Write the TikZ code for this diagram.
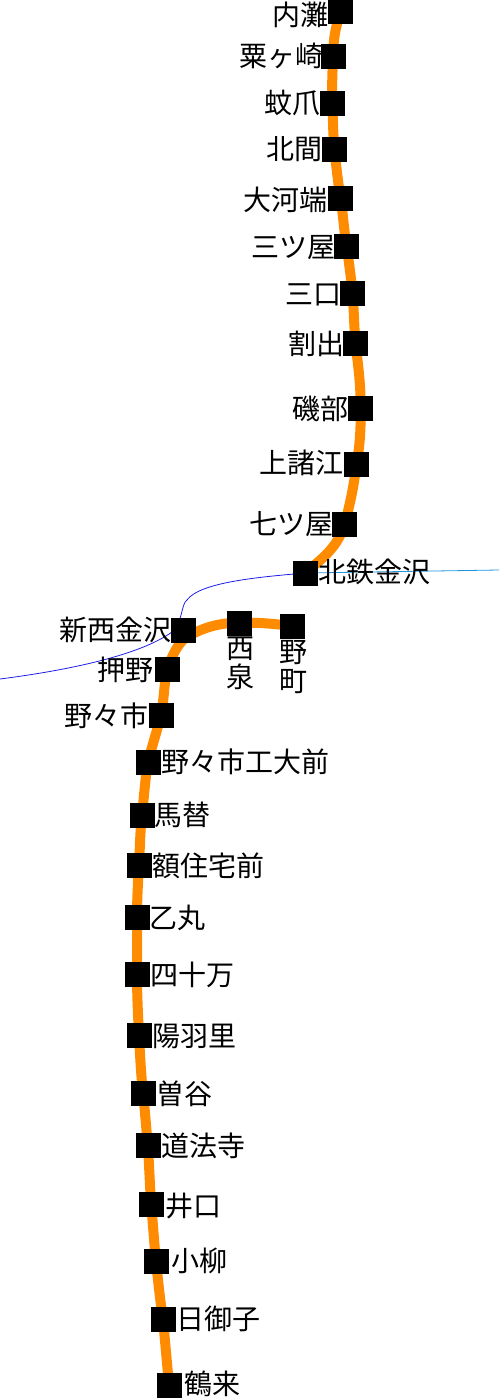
\documentclass[tikz,border=0pt]{standalone}
\usepackage{fontspec}
\setmainfont{Noto Sans CJK JP}[Scale=1]
\tikzset{
  sta/.style={fill=black,minimum size=25pt,inner sep=0pt,outer sep=0pt},
  lab/.style={font=\fontsize{28pt}{28pt}\selectfont,inner sep=0pt,outer sep=0pt},
  rail/.style={draw={rgb,255:red,255;green,140;blue,0},line width=10pt},
  tie/.style={draw={rgb,255:red,30;green,30;blue,235},line width=0.8pt},
  tieb/.style={draw={rgb,255:red,30;green,150;blue,225},line width=0.8pt}
}
\begin{document}
\begin{tikzpicture}[x=1pt,y=-1pt]
\useasboundingbox (0,0) rectangle (499,1398);
\coordinate (wl) at (0,679);
\coordinate (er) at (499,570);
\coordinate (a1) at (340.5,11);
\coordinate (a2) at (333.5,56);
\coordinate (a3) at (332.5,103);
\coordinate (a4) at (334.5,149);
\coordinate (a5) at (340.5,198);
\coordinate (a6) at (346.5,246);
\coordinate (a7) at (352.5,293);
\coordinate (a8) at (355.5,343);
\coordinate (a9) at (360.5,408);
\coordinate (a10) at (356.5,464);
\coordinate (a11) at (344.5,524);
\coordinate (a12) at (305,573);
\coordinate (b0) at (292,626);
\coordinate (b1) at (239.5,623);
\coordinate (b2) at (183,630);
\coordinate (b3) at (167,669);
\coordinate (b4) at (161,715);
\coordinate (b5) at (148,762);
\coordinate (b6) at (142,815);
\coordinate (b7) at (139,865);
\coordinate (b8) at (137,917);
\coordinate (b9) at (137,974);
\coordinate (b10) at (139,1035);
\coordinate (b11) at (143,1093);
\coordinate (b12) at (148,1145);
\coordinate (b13) at (151,1204);
\coordinate (b14) at (156,1261);
\coordinate (b15) at (163,1319);
\coordinate (b16) at (169,1385);
% thin lines
\draw[tie] (wl) .. controls (70,670) and (140,655) .. (172,632) .. controls (183,622) and (181,604) .. (187,600) .. controls (200,582) and (260,577) .. (a12);
\draw[tieb] (a12) -- (er);
% rails
\draw[rail] (a1) .. controls (335,30) and (333,40) .. (a2) .. controls (332,72) and (332,88) .. (a3) .. controls (333,120) and (333,134) .. (a4) .. controls (336,165) and (338,182) .. (a5) .. controls (343,214) and (344,230) .. (a6) .. controls (349,262) and (351,278) .. (a7) .. controls (354,310) and (354,326) .. (a8) .. controls (358,365) and (361,385) .. (a9) .. controls (361,428) and (360,445) .. (a10) .. controls (354,485) and (350,505) .. (a11) .. controls (338,547) and (323,558) .. (a12);
\draw[rail] (b0) .. controls (275,624) and (258,622) .. (b1) .. controls (218,622) and (196,630) .. (183,640) .. controls (175,648) and (171,660) .. (b3) .. controls (164,685) and (164,700) .. (b4) .. controls (157,731) and (152,746) .. (b5) .. controls (145,780) and (144,797) .. (b6) .. controls (140,832) and (140,848) .. (b7) .. controls (138,882) and (137,900) .. (b8) .. controls (137,936) and (137,955) .. (b9) .. controls (137,995) and (138,1015) .. (b10) .. controls (140,1055) and (141,1074) .. (b11) .. controls (145,1110) and (146,1128) .. (b12) .. controls (149,1165) and (150,1185) .. (b13) .. controls (153,1223) and (154,1242) .. (b14) .. controls (158,1280) and (160,1300) .. (b15) .. controls (165,1341) and (167,1363) .. (b16);
% stations
\foreach \n in {a1,a2,a3,a4,a5,a6,a7,a8,a9,a10,a11,a12,b0,b1,b2,b3,b4,b5,b6,b7,b8,b9,b10,b11,b12,b13,b14,b15,b16}
  \node[sta] (s\n) at (\n) {};
% labels
\node[lab,anchor=east] (l1) at (328,15) {内灘};
\node[lab,anchor=east] (l2) at (323,56) {粟ヶ崎};
\node[lab,anchor=east] (l3) at (320,103) {蚊爪};
\node[lab,anchor=east] (l4) at (322,149) {北間};
\node[lab,anchor=east] (l5) at (327,200) {大河端};
\node[lab,anchor=east] (l6) at (335,248) {三ツ屋};
\node[lab,anchor=east] (l7) at (341,295) {三口};
\node[lab,anchor=east] (l8) at (344,344) {割出};
\node[lab,anchor=east] (l9) at (348,409) {磯部};
\node[lab,anchor=east] (l10) at (343,463) {上諸江};
\node[lab,anchor=east] (l11) at (333,524) {七ツ屋};
\node[lab,anchor=west] (l12) at (318,572) {北鉄金沢};
\node[lab,anchor=east] (m2) at (171,630) {新西金沢};
\node[lab,anchor=north] (m1a) at (240,637) {西};
\node[lab,anchor=north] (m1b) at (240,664) {泉};
\node[lab,anchor=north] (m0a) at (293,640) {野};
\node[lab,anchor=north] (m0b) at (293,669) {町};
\node[lab,anchor=east] (m3) at (153,670) {押野};
\node[lab,anchor=east] (m4) at (148,716) {野々市};
\node[lab,anchor=west] (m5) at (161,762) {野々市工大前};
\node[lab,anchor=west] (m6) at (154,815) {馬替};
\node[lab,anchor=west] (m7) at (152,866) {額住宅前};
\node[lab,anchor=west] (m8) at (149,918) {乙丸};
\node[lab,anchor=west] (m9) at (150,975) {四十万};
\node[lab,anchor=west] (m10) at (152,1036) {陽羽里};
\node[lab,anchor=west] (m11) at (156,1094) {曽谷};
\node[lab,anchor=west] (m12) at (161,1146) {道法寺};
\node[lab,anchor=west] (m13) at (165,1206) {井口};
\node[lab,anchor=west] (m14) at (171,1261) {小柳};
\node[lab,anchor=west] (m15) at (176,1319) {日御子};
\node[lab,anchor=west] (m16) at (184,1384) {鶴来};
\end{tikzpicture}
\end{document}
